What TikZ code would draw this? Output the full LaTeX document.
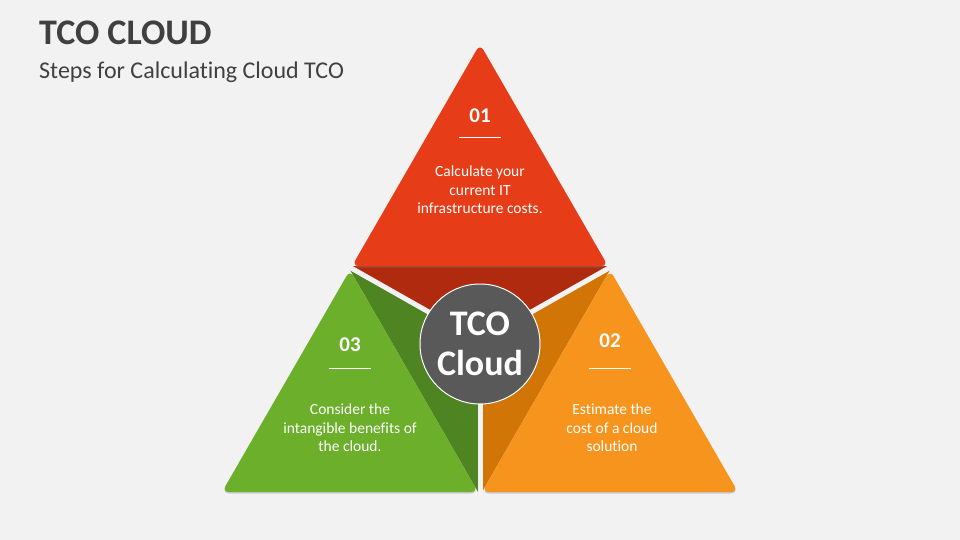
\documentclass[tikz,border=0pt]{standalone}
\usepackage{fontspec}
\setmainfont{Carlito}[Ligatures=NoCommon]
\usetikzlibrary{positioning,shadows,calc}

\definecolor{bgray}{HTML}{F2F2F2}
\definecolor{ttext}{HTML}{404040}
\definecolor{redA}{HTML}{E63C17}
\definecolor{redB}{HTML}{B02A10}
\definecolor{grnA}{HTML}{6BAF2A}
\definecolor{grnB}{HTML}{4F8422}
\definecolor{orgA}{HTML}{F7941E}
\definecolor{orgB}{HTML}{D17507}
\definecolor{hubgray}{HTML}{595959}

\begin{document}
\begin{tikzpicture}
	[   x=1pt,y=-1pt,
		tri/.style={fill=#1,rounded corners=7pt,drop shadow={shadow xshift=0pt,shadow yshift=-1.5pt,opacity=0.35}},
		fold/.style={fill=#1},
		gap/.style={draw=bgray,line width=5pt},
		num/.style={text=white,font=\bfseries\fontsize{21}{21}\selectfont},
		desc/.style={text=white,align=center,font=\fontsize{15.5}{18.5}\selectfont},
	]
	\tikzset{rule/.style={draw=white,line width=1pt}}
	\fill[bgray] (0,0) rectangle (960,540);
	\useasboundingbox (0,0) rectangle (960,540);

	\node[anchor=base west,inner sep=0,text=ttext,font=\bfseries\fontsize{36}{36}\selectfont] (title) at (39,45) {TCO CLOUD};
	\node[anchor=base west,inner sep=0,text=ttext,font=\fontsize{24}{24}\selectfont] (subtitle) at (39,79) {Steps for Calculating Cloud TCO};

	% corners of the three triangles
	\coordinate (c) at (480,341);
	\coordinate (t-1) at (480,44);
	\coordinate (t-2) at (352,266);
	\coordinate (t-3) at (608,266);
	\coordinate (g-1) at (350,270);
	\coordinate (g-2) at (222,492);
	\coordinate (g-3) at (478,492);
	\coordinate (o-1) at (610,270);
	\coordinate (o-2) at (482,492);
	\coordinate (o-3) at (738,492);

	% folds towards the hub
	\fill[fold=redB] (t-2) -- (t-3) -- (c) -- cycle;
	\fill[fold=grnB] (g-1) -- (g-3) -- (c) -- cycle;
	\fill[fold=orgB] (o-1) -- (o-2) -- (c) -- cycle;
	\path[gap] (c) -- ($(t-2)!0.5!(g-1)$);
	\path[gap] (c) -- ($(t-3)!0.5!(o-1)$);
	\path[gap] (c) -- ($(g-3)!0.5!(o-2)$);

	\path[tri=redA] (t-1) -- (t-2) -- (t-3) -- cycle;
	\path[tri=grnA] (g-1) -- (g-2) -- (g-3) -- cycle;
	\path[tri=orgA] (o-1) -- (o-2) -- (o-3) -- cycle;

	\node[num] (n-1) at (480,116) {01};
	\node[num] (n-2) at (610,341) {02};
	\node[num] (n-3) at (350,345) {03};

	\foreach \x/\y in {480/138,610/368,350/368}
	{
		\path[rule] (\x-21,\y) -- (\x+21,\y);
	}

	\node[desc] (d-1) at (480,190) {Calculate your\\current IT\\infrastructure costs.};
	\node[desc] (d-2) at (612,428) {Estimate the\\cost of a cloud\\solution};
	\node[desc] (d-3) at (350,428) {Consider the\\intangible benefits of\\the cloud.};

	\node[circle,fill=hubgray,draw=white,line width=1pt,minimum size=120pt,inner sep=0,align=center,text=white,font=\bfseries\fontsize{36}{40}\selectfont] (hub) at (480,344) {TCO\\Cloud};
\end{tikzpicture}
\end{document}
